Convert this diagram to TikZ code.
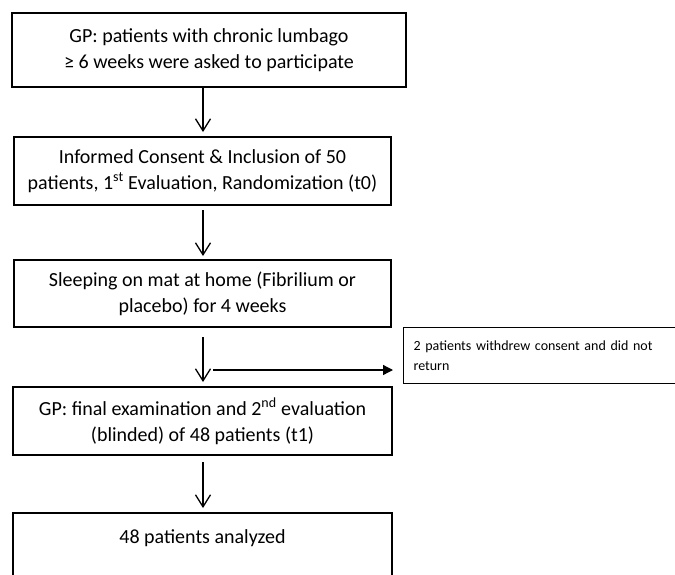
\documentclass[tikz,border=0pt]{standalone}
\usepackage{fontspec}
\setmainfont{Carlito}
\usetikzlibrary{arrows.meta}
\begin{document}
\begin{tikzpicture}[x=1pt,y=-1pt,
  flowbox/.style={draw=black, line width=2pt, rectangle, align=center, inner sep=0pt,
    font=\fontsize{20}{26}\selectfont},
  flowarrow/.style={line width=1.3pt, -{Straight Barb[length=12pt,width=15pt]}},
  sidearrow/.style={line width=1.3pt, -{Triangle[length=10pt,width=10pt]}},
  sidebox/.style={draw=black, line width=1.1pt, rectangle, align=left, inner xsep=10pt, inner ysep=0pt,
    font=\fontsize{14}{20}\selectfont, anchor=north west, minimum height=56pt, minimum width=320pt, text width=300pt}]
\useasboundingbox (0,0) rectangle (675,574);
\clip (0,0) rectangle (675,574);

\node[flowbox, minimum width=394pt, minimum height=74pt] (b1) at (209,50)
  {GP: patients with chronic lumbago\\ ≥ 6 weeks were asked to participate};
\node[flowbox, minimum width=377pt, minimum height=68pt] (b2) at (202.5,171)
  {Informed Consent \& Inclusion of 50\\ patients, 1\textsuperscript{st} Evaluation, Randomization (t0)};
\node[flowbox, minimum width=377pt, minimum height=67pt] (b3) at (202.5,293.5)
  {Sleeping on mat at home (Fibrilium or\\ placebo) for 4 weeks};
\node[flowbox, minimum width=379pt, minimum height=68pt] (b4) at (202.5,421)
  {GP: final examination and 2\textsuperscript{nd} evaluation\\ (blinded) of 48 patients (t1)};
\node[flowbox, minimum width=379pt, minimum height=100pt, anchor=north] (b5) at (202.5,512) {};
\node[font=\fontsize{20}{26}\selectfont, inner sep=0pt] (t5) at (202.5,538) {48 patients analyzed};

\node[sidebox] (side) at (403,327) {2 patients withdrew consent and did not\\ return};

\coordinate (a1) at (203,88);
\coordinate (a2) at (203,205);
\coordinate (a3) at (203,327);
\coordinate (a4) at (203,455);
\coordinate (drop) at (203,370);

\draw[flowarrow, shorten >=4pt] (a1) -- (a1 |- b2.north);
\draw[flowarrow, shorten <=5pt, shorten >=3pt] (a2) -- (a2 |- b3.north);
\draw[flowarrow, shorten <=10pt, shorten >=4pt] (a3) -- (a3 |- b4.north);
\draw[flowarrow, shorten <=7pt, shorten >=4pt] (a4) -- (a4 |- b5.north);
\draw[sidearrow, shorten <=10pt, shorten >=10pt] (drop) -- (side.west |- drop);
\end{tikzpicture}
\end{document}
